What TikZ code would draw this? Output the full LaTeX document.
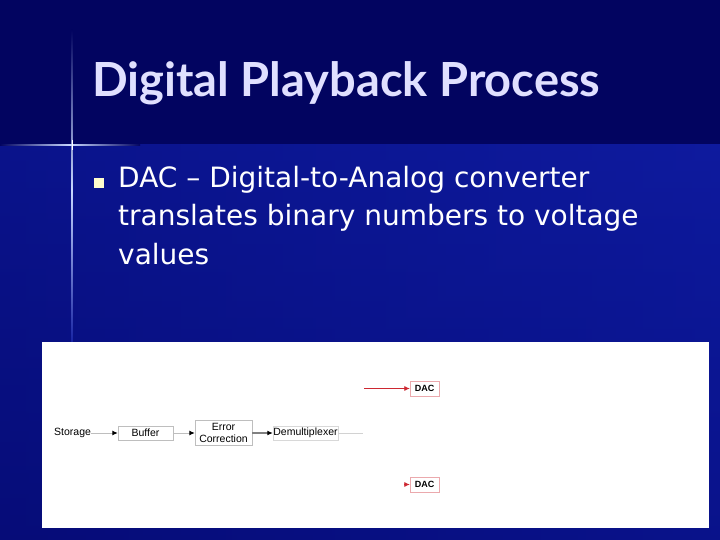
\documentclass[tikz,border=0pt]{standalone}
\usepackage{fontspec}
\setmainfont{DejaVu Sans}
\newfontfamily\titlefont{Lato}
\newfontfamily\diagfont{Liberation Sans}
\usetikzlibrary{arrows.meta,positioning}

\definecolor{slidetop}{RGB}{2,4,96}
\definecolor{slidelow}{RGB}{14,26,158}
\definecolor{slidedark}{RGB}{6,12,120}
\definecolor{flare}{RGB}{200,215,255}
\definecolor{dacred}{RGB}{205,40,50}
\definecolor{linegray}{RGB}{190,190,190}

\begin{document}
\begin{tikzpicture}[
    x=1pt, y=-1pt,
    blockbox/.style={draw=linegray, fill=white, inner sep=0pt, font=\diagfont\fontsize{10.5}{12}\selectfont},
    dacbox/.style={draw=dacred!40, fill=white, inner sep=0pt, minimum width=29pt, minimum height=15pt, font=\diagfont\bfseries\fontsize{9}{10}\selectfont},
    flow/.style={draw=linegray, line width=1pt, -{Latex[black,length=5.5pt,width=5pt]}}
    ]
    \useasboundingbox (0,0) rectangle (720,540);

    % background of the slide
    \fill[slidetop] (0,0) rectangle (720,145);
    \shade[left color=slidedark, right color=slidelow] (0,145) rectangle (720,540);
    \shade[top color=slidelow, bottom color=slidedark, opacity=0.5] (0,145) rectangle (720,540);

    % the flare
    \shade[top color=slidetop, bottom color=slidelow, middle color=flare] (71.2,30) rectangle (72.8,350);
    \shade[left color=slidetop, right color=slidetop, middle color=flare] (0,144.2) rectangle (140,145.8);
    \fill[white] (71.5,140) rectangle (72.5,150);

    % title and text
    \node[anchor=base west, inner sep=0pt, text=white!88!blue, font=\titlefont\bfseries\fontsize{47}{54}\selectfont] (title) at (92,97) {Digital Playback Process};
    \fill[yellow!20] (94,178) rectangle (104,188);
    \node[anchor=north west, inner sep=0pt, text=white, align=left, font=\fontsize{28}{38.5}\selectfont] (bullet) at (118,166)
      {DAC -- Digital-to-Analog converter\\translates binary numbers to voltage\\values};

    % the diagram
    \fill[white] (42,342) rectangle (709,528);

    \node[inner sep=0pt, font=\diagfont\fontsize{10.5}{12}\selectfont, anchor=west] (storage) at (54,433) {Storage};
    \node[blockbox, minimum width=55pt, minimum height=14pt] (buffer) at (145.5,433) {Buffer};
    \node[blockbox, align=center, minimum width=57pt, minimum height=25pt] (error) at (223.5,433) {Error\\Correction};
    \node[blockbox, draw=linegray!60, minimum width=65pt, minimum height=14pt] (demux) at (305.5,433) {Demultiplexer};
    \coordinate (split) at (363,433);

    \node[dacbox] (dacA) at (424.5,388.5) {DAC};
    \node[dacbox] (dacB) at (424.5,484.5) {DAC};
    \coordinate (feedA) at (364,388.5);
    \coordinate (feedB) at (403,484.5);

    \draw[flow] (storage) -- (buffer);
    \draw[flow] (buffer) -- (error);
    \draw[flow, draw=gray, line width=1.3pt] (error) -- (demux);
    \draw[linegray!70, line width=0.8pt] (demux) -- (split);
    \draw[dacred, line width=0.8pt, -{Latex[length=5.5pt,width=5pt]}] (feedA) -- (dacA);
    \draw[dacred, line width=0.8pt, -{Latex[length=5.5pt,width=5pt]}, shorten <=1pt] (feedB) -- (dacB);
\end{tikzpicture}
\end{document}
